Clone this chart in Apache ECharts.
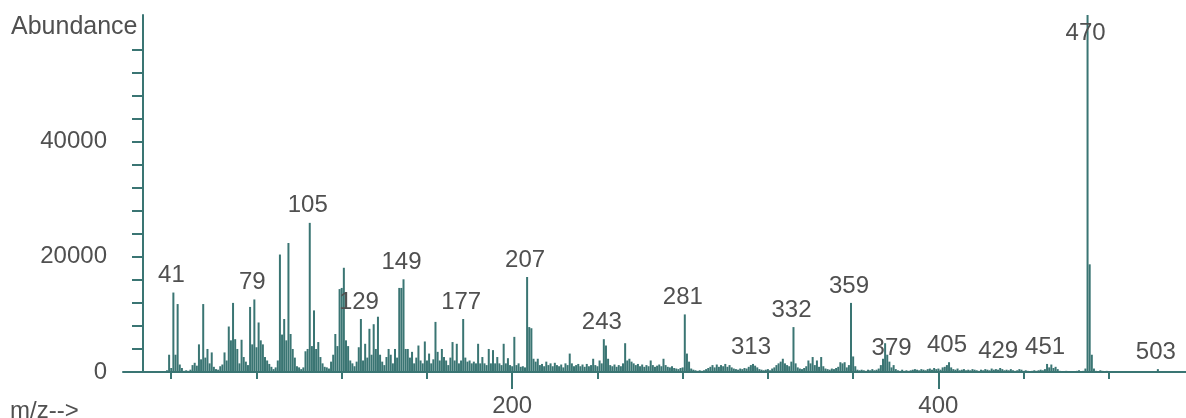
<!DOCTYPE html>
<html>
<head>
<meta charset="utf-8">
<script src="https://cdn.jsdelivr.net/npm/echarts@6/dist/echarts.min.js"></script>
<style>
  html, body { margin: 0; padding: 0; background: #ffffff; }
  #chart { width: 1186px; height: 418px; }
</style>
</head>
<body>
<div id="chart"></div>
<script>
// ---------------- DATA ----------------
// Abundance per integer m/z.
const abundance030 = [ // m/z 30-99
  0,0,0,0,0,0,0,0,300,3000,                                  // 30-39
  700,13800,3000,11800,1300,700,200,300,200,400,             // 40-49
  1200,1600,1100,4800,2200,11800,2500,4000,1500,3400,        // 50-59
  900,500,400,1000,1300,3400,2000,7900,5500,12000,           // 60-69
  5700,4000,1500,5600,2600,1800,1200,11300,4800,12600,       // 70-79
  4300,8600,5500,4800,2600,2000,1400,900,500,800,            // 80-89
  2000,20400,6500,9200,5500,22400,6600,4000,2500,1000        // 90-99
];
const abundance100 = [ // m/z 100-199
  800,500,800,3600,4000,25900,4500,10700,4000,5200,          // 100-109
  2600,1500,900,800,600,1800,3000,6600,4500,14400,           // 110-119
  14600,18100,5500,4500,2000,1500,1000,1800,4300,9200,       // 120-129
  2000,4900,2500,7500,3000,8300,4000,9600,3000,1800,         // 130-139
  1200,2600,4000,3000,1500,4000,2500,14600,14600,16100,      // 140-149
  4000,4000,2500,3500,1500,2500,4600,2000,1500,5300,         // 150-159
  2000,3200,1500,2200,8700,3500,2000,4000,2600,2000,         // 160-169
  1200,2500,5200,2000,4900,1500,2000,9200,2500,1800,         // 170-179
  2000,1500,1800,1500,4900,1500,2600,1500,1200,4000,         // 180-189
  1500,3800,1500,2600,1500,1200,4900,1500,2400,1200          // 190-199
];
const abundance200 = [ // m/z 200-299
  1000,6100,1200,1500,900,1000,800,16500,7800,7600,          // 200-209
  2300,1800,2300,1200,1400,1000,1800,1200,1500,1000,         // 210-219
  1600,1200,1000,1300,800,1500,1200,3200,1500,1000,          // 220-229
  1200,1400,1000,1300,900,1400,1000,1200,2300,1200,          // 230-239
  1000,2000,1500,5700,4600,2300,1200,1000,1300,900,          // 240-249
  1200,1000,1500,5000,2000,2300,1800,1500,1200,1400,         // 250-259
  1000,1300,900,1200,1000,2000,1200,900,1100,1300,           // 260-269
  1000,2300,1200,900,800,1000,700,600,500,700,               // 270-279
  800,10000,3200,1800,600,400,300,200,300,200,               // 280-289
  300,500,700,900,1200,800,1300,900,1200,1000                // 290-299
];
const abundance300 = [ // m/z 300-399
  1400,900,1200,800,600,500,400,600,500,700,                 // 300-309
  600,900,1200,1400,1100,800,500,400,300,400,                // 310-319
  500,300,600,800,1200,1500,1800,2300,1500,1200,             // 320-329
  1000,1800,7800,1500,800,600,500,700,1000,2000,             // 330-339
  1500,2600,1200,2000,900,2600,1000,600,500,400,             // 340-349
  600,500,700,900,1700,1500,1700,800,1200,12000,             // 350-359
  2700,1000,400,300,400,300,200,400,300,500,                 // 360-369
  300,400,600,1200,2300,5000,3000,1800,800,1200,             // 370-379
  500,300,200,400,200,300,200,300,400,500,                   // 380-389
  400,300,500,400,300,500,600,400,700,500                    // 390-399
];
const abundance400 = [ // m/z 400-503
  600,400,800,900,1200,1700,800,500,400,600,                 // 400-409
  300,400,500,300,400,300,500,400,300,200,                   // 410-419
  400,300,500,400,300,600,400,500,400,700,                   // 420-429
  500,300,400,300,500,300,200,300,500,400,                   // 430-439
  200,300,200,100,200,300,200,300,400,300,                   // 440-449
  500,1400,800,1300,700,900,500,200,100,100,                 // 450-459
  200,100,100,0,100,200,300,100,200,600,                     // 460-469
  62000,18700,3000,600,200,100,300,200,100,200,              // 470-479
  100,0,0,100,0,0,0,0,100,0,                                 // 480-489
  0,0,100,0,0,0,0,0,0,0,                                     // 490-499
  0,0,0,500                                                  // 500-503
];
const segmentStarts = [30, 100, 200, 300, 400];
const labeledMz = [41, 79, 105, 129, 149, 177, 207, 243, 281, 313, 332, 359, 379, 405, 429, 451, 470, 503];
const xTickValues = [40, 80, 120, 160, 200, 240, 280, 320, 360, 400, 440, 480];
const xLabelValues = [200, 400];
const yTickValues = [0, 4000, 8000, 12000, 16000, 20000, 24000, 28000, 32000, 36000, 40000, 44000, 48000, 52000, 56000];
const yLabelValues = [0, 20000, 40000];
const yTitle = 'Abundance';
const xTitle = 'm/z-->';

// ---------------- STYLE ----------------
const TEAL = '#3a7573';
const TEXT = '#505050';
const FONT = 'Liberation Sans, Arial, sans-serif';
const X_MIN = 17.36, X_MAX = 516.2, Y_MAX = 62000;

const segments = [abundance030, abundance100, abundance200, abundance300, abundance400];
const barData = [];
segments.forEach((arr, si) => {
  arr.forEach((v, i) => {
    const mz = segmentStarts[si] + i;
    if (v <= 0) return;
    const item = { value: [mz, v] };
    if (labeledMz.includes(mz)) {
      const nearTop = v >= Y_MAX * 0.95;
      item.label = {
        show: true,
        formatter: String(mz),
        position: nearTop ? 'insideTop' : 'top',
        distance: nearTop ? 6 : 5,
        offset: [-2, 0]
      };
    }
    barData.push(item);
  });
});

const chart = echarts.init(document.getElementById('chart'), null, { renderer: 'canvas' });
chart.setOption({
  animation: false,
  backgroundColor: '#ffffff',
  grid: { left: 123, right: 0, top: 15, bottom: 43, containLabel: false },
  xAxis: [
    {
      type: 'value', min: X_MIN, max: X_MAX,
      axisLine: { show: true, lineStyle: { color: TEAL, width: 2 } },
      axisTick: { show: true, customValues: xTickValues, length: 7, lineStyle: { color: TEAL, width: 2 } },
      axisLabel: { show: false },
      splitLine: { show: false }
    },
    {
      type: 'value', min: X_MIN, max: X_MAX, position: 'bottom',
      axisLine: { show: false },
      axisTick: { show: true, customValues: xLabelValues, length: 17, lineStyle: { color: TEAL, width: 2 } },
      axisLabel: { show: true, customValues: xLabelValues, margin: 22, fontSize: 24, color: TEXT, fontFamily: FONT },
      splitLine: { show: false }
    }
  ],
  yAxis: {
    type: 'value', min: 0, max: Y_MAX, offset: -20,
    axisLine: { show: true, lineStyle: { color: TEAL, width: 2 } },
    axisTick: { show: true, customValues: yTickValues, length: 11, lineStyle: { color: TEAL, width: 2 } },
    axisLabel: {
      show: true, customValues: yLabelValues, margin: 36, fontSize: 24, color: TEXT, fontFamily: FONT,
      formatter: (v) => String(v)
    },
    splitLine: { show: false }
  },
  series: [{
    type: 'bar',
    xAxisIndex: 0,
    barWidth: 2,
    itemStyle: { color: TEAL },
    label: { show: false, fontSize: 24, color: TEXT, fontFamily: FONT },
    data: barData
  }],
  graphic: [
    { type: 'text', left: 11, top: 15, style: { text: yTitle, fontSize: 25, fill: TEXT, fontFamily: FONT } },
    { type: 'text', left: 10, top: 399, style: { text: xTitle, fontSize: 24, fill: TEXT, fontFamily: FONT } }
  ]
});
</script>
</body>
</html>
